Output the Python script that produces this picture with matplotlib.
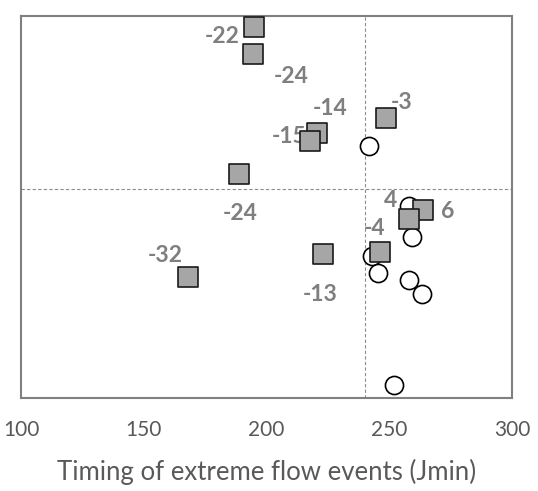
import matplotlib.pyplot as plt

# --- data (y axis has no scale; arbitrary 0-100 units) ---
sq_x = [195, 194.5, 188.8, 220.6, 217.7, 248.7, 168.0, 223.0, 246.2, 263.7, 258.0]
sq_y = [97.1, 90.1, 58.6, 69.4, 67.3, 73.3, 31.7, 37.7, 38.2, 49.2, 46.9]
sq_labels = ["-22", "-24", "-24", "-14", "-15", "-3", "-32", "-13", "-4", "6", "4"]
# label offsets (pixels) from each square
sq_offsets = [(-32, -9), (38, -22), (1, -39), (13, 25), (-21, 5), (15, 16),
              (-23, 22), (-3, -40), (-5, 24), (25, -1), (-18, 19)]

circ_x = [241.8, 258.0, 259.3, 243.0, 245.4, 258.0, 263.3, 251.9]
circ_y = [66.0, 50.3, 42.1, 37.2, 32.7, 30.9, 27.2, 3.4]

X_SPLIT = 240
Y_SPLIT = 54.7

FONT = "Lato"
LABEL_GREY = "#7f7f7f"

fig = plt.figure(figsize=(5.38, 4.91), dpi=100)
ax = fig.add_axes([0.039, 0.189, 0.913, 0.778])

ax.axvline(X_SPLIT, color="#8c8c8c", lw=0.8, ls=(0, (3, 2)), zorder=1)
ax.axhline(Y_SPLIT, color="#8c8c8c", lw=0.8, ls=(0, (3, 2)), zorder=1)

for lab, (dx, dy), x, y in zip(sq_labels, sq_offsets, sq_x, sq_y):
    ax.annotate(lab, (x, y), xytext=(dx, dy), textcoords="offset pixels",
                ha="center", va="center", fontsize=16.5, fontweight="bold",
                color=LABEL_GREY, family=FONT, zorder=2)

ax.scatter(circ_x, circ_y, s=170, marker="o", facecolor="white",
           edgecolor="black", linewidth=1.2, zorder=3)
ax.scatter(sq_x, sq_y, s=190, marker="s", facecolor="#a6a6a6",
           edgecolor="#1a1a1a", linewidth=1.2, zorder=4)

ax.set_xlim(100, 300)
ax.set_ylim(0, 100)
ax.set_xticks([100, 150, 200, 250, 300])
ax.set_yticks([])
ax.tick_params(axis="x", length=0, pad=16, labelsize=15, labelcolor="#595959")
for t in ax.get_xticklabels():
    t.set_family(FONT)
ax.set_xlabel("Timing of extreme flow events (Jmin)", fontsize=18.5,
              color="#595959", family=FONT, labelpad=13)
for sp in ax.spines.values():
    sp.set_color("#808080")
    sp.set_linewidth(1.5)

fig.savefig("out.png", dpi=100)
